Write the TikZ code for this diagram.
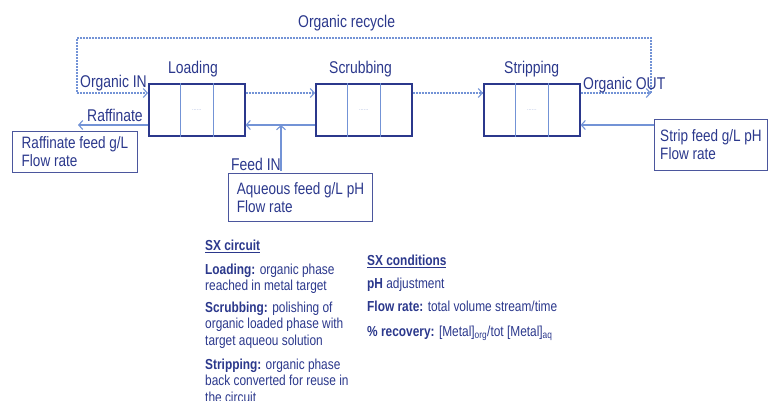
\documentclass[tikz,border=0pt]{standalone}
\usepackage{fontspec}
\setmainfont{Liberation Sans}[FakeStretch=0.82]
\usepackage{xcolor}
\usetikzlibrary{arrows.meta}
\usetikzlibrary{calc}

\definecolor{sxnavy}{HTML}{2B388C}
\definecolor{sxline}{HTML}{7393D6}
\definecolor{sxdots}{HTML}{A9B8DD}

\tikzset{
	stage/.style={draw=sxnavy, line width=1.6pt, minimum width=96pt, minimum height=52pt,
		inner sep=0pt, anchor=north west, font=\fontsize{7}{7}\selectfont, text=sxdots},
	divider/.style={draw=sxline, line width=1.1pt},
	orgflow/.style={draw=sxline, line width=1.2pt, dash pattern=on 2pt off 1pt},
	aqflow/.style={draw=sxline, line width=1.3pt},
	tip/.style={-{Straight Barb[length=4pt,width=9pt,line width=1.1pt]}},
	title/.style={text=sxnavy, anchor=base west, inner sep=0pt, font=\fontsize{17}{18}\selectfont},
	infobox/.style={draw=sxnavy!85, line width=1pt, anchor=north west, align=left, text=sxnavy,
		inner xsep=0pt, inner ysep=2pt, font=\fontsize{16.5}{18}\selectfont},
	notes/.style={text=sxnavy, anchor=north west, align=left, inner sep=0pt,
		font=\fontsize{14.5}{16.5}\selectfont},
}

\begin{document}
\begin{tikzpicture}[x=1pt,y=-1pt]
			%\draw[help lines] (0,0) grid (768,400);
			\useasboundingbox (0,0) rectangle (768,400);
			
			% rows of the two phases
			\coordinate (orgrow) at (0,93);
			\coordinate (aqrow) at (0,125);
			
			% settler stages
			\node[stage] (loading) at (148,83) {......};
			\node[stage] (scrubbing) at (315,83) {......};
			\node[stage] (stripping) at (483,83) {......};
			
			\draw[divider] ($(loading.north west)!1/3!(loading.north east)$) -- ($(loading.south west)!1/3!(loading.south east)$);
			\draw[divider] ($(loading.north west)!2/3!(loading.north east)$) -- ($(loading.south west)!2/3!(loading.south east)$);
			\draw[divider] ($(scrubbing.north west)!1/3!(scrubbing.north east)$) -- ($(scrubbing.south west)!1/3!(scrubbing.south east)$);
			\draw[divider] ($(scrubbing.north west)!2/3!(scrubbing.north east)$) -- ($(scrubbing.south west)!2/3!(scrubbing.south east)$);
			\draw[divider] ($(stripping.north west)!1/3!(stripping.north east)$) -- ($(stripping.south west)!1/3!(stripping.south east)$);
			\draw[divider] ($(stripping.north west)!2/3!(stripping.north east)$) -- ($(stripping.south west)!2/3!(stripping.south east)$);
			
			\node[title] (loading-title) at (168,73) {Loading};
			\node[title] (scrubbing-title) at (329,73) {Scrubbing};
			\node[title] (stripping-title) at (504,73) {Stripping};
			
			% feed and product boxes
			\node[infobox, minimum width=125pt, minimum height=41pt] (raffinate) at (12,131) {Raffinate feed g/L\\Flow rate};
			\node[infobox, minimum width=144pt, minimum height=48pt] (aqfeed) at (228,173) {Aqueous feed g/L pH\\Flow rate};
			\node[infobox, minimum width=113pt, minimum height=51pt] (stripfeed) at (654,119) {Strip feed g/L pH\\Flow rate};
			
			% organic recycle loop
			\coordinate (recycle-out) at (651,93);
			\coordinate (recycle-in) at (77,93);
			\coordinate (raffinate-end) at (78,125);
			\coordinate (feed-start) at (281,171);
			\coordinate (feed-join) at (281,125);
			
			\path[orgflow]
			(stripping.east |- orgrow) edge[tip] (recycle-out)
			(recycle-in) edge[tip] (loading.west |- orgrow)
			(loading.east |- orgrow) edge[tip] (scrubbing.west |- orgrow)
			(scrubbing.east |- orgrow) edge[tip] (stripping.west |- orgrow);
			\draw[orgflow] (recycle-out) -- ++(0,-55) -| (recycle-in);
			
			% aqueous streams
			\path[aqflow]
			(scrubbing.west |- aqrow) edge[tip] (loading.east |- aqrow)
			(loading.west |- aqrow) edge[tip] (raffinate-end)
			(stripfeed.west |- aqrow) edge[tip] (stripping.east |- aqrow)
			(feed-start) edge[tip] (feed-join);
			
			% stream labels
			\node[title] (recycle-label) at (298,27) {Organic recycle};
			\node[title] (orgin-label) at (80,87) {Organic IN};
			\node[title] (raffinate-label) at (87,121) {Raffinate};
			\node[title] (orgout-label) at (583,89) {Organic OUT};
			\node[title] (feedin-label) at (231,170) {Feed IN};
			
			% notes
			\node[notes] (circuit-head) at (205,239.5) {\textbf{\underline{SX circuit}}};
			\node[notes] (circuit-load) at (205,263.5) {\textbf{Loading:} organic phase\\reached in metal target};
			\node[notes] (circuit-scrub) at (205,301.5) {\textbf{Scrubbing:} polishing of\\organic loaded phase with\\target aqueou solution};
			\node[notes] (circuit-strip) at (205,358.5) {\textbf{Stripping:} organic phase\\back converted for reuse in\\the circuit};
			
			\node[notes] (cond-head) at (367,254.5) {\textbf{\underline{SX conditions}}};
			\node[notes] (cond-ph) at (367,277.5) {\textbf{pH} adjustment};
			\node[notes] (cond-flow) at (367,300.5) {\textbf{Flow rate:} total volume stream/time};
			\node[notes] (cond-rec) at (367,325.5) {\textbf{\% recovery:} [Metal]\textsubscript{org}/tot [Metal]\textsubscript{aq}};
			
\end{tikzpicture}
\end{document}
